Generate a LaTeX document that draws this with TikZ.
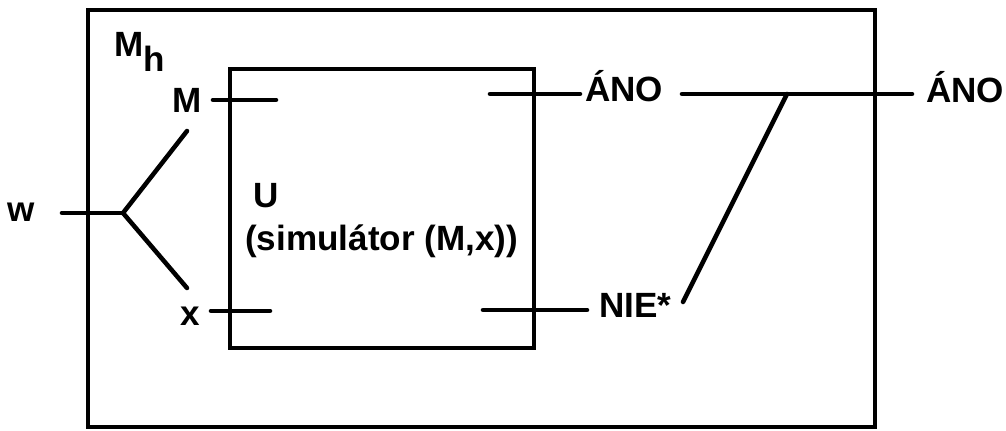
\documentclass[tikz,border=0pt]{standalone}
\usepackage{fontspec}
\setmainfont{Liberation Sans}
\begin{document}
\begin{tikzpicture}[x=0.75pt,y=-0.75pt,line width=3.4pt,
  lbl/.style={font=\fontsize{26.3}{29}\selectfont\bfseries,inner sep=0pt,anchor=base},
  wire/.style={line cap=round}]
\useasboundingbox (0,0) rectangle (1006,431);
\draw (88,10) rectangle (875,427);
\draw (230,69) rectangle (534,348);

\node[lbl,anchor=base west] (mh) at (112,57) {M\raisebox{-11pt}{h}};
\node[lbl] (w) at (21,221) {w};
\node[lbl] (m) at (187,113) {M};
\node[lbl] (x) at (190,325) {x};
\node[lbl,anchor=base west] (u) at (251,207) {U};
\node[lbl,anchor=base west] (sim) at (243,250) {(simulátor (M,x))};
\node[lbl] (ano) at (624,102) {ÁNO};
\node[lbl,anchor=base west] (nie) at (597,317) {NIE*};
\node[lbl] (anoout) at (965,103) {ÁNO};

\coordinate (win) at (62,213);
\coordinate (fork) at (123,213);
\coordinate (forkm) at (187,131);
\coordinate (forkx) at (187,288);
\coordinate (min) at (213,100);
\coordinate (mend) at (276,100);
\coordinate (xin) at (211,311);
\coordinate (xend) at (270,311);
\coordinate (anoin) at (490,94);
\coordinate (anoend) at (580,94);
\coordinate (niein) at (483,310);
\coordinate (nieend) at (587,310);
\coordinate (outa) at (682,94);
\coordinate (outb) at (912,94);
\coordinate (swtop) at (787,94);
\coordinate (swbot) at (683,302);

% vstup w
\draw[wire] (win) -- (fork);
\draw[wire] (fork) -- (forkm);
\draw[wire] (fork) -- (forkx);
\draw[wire] (min) -- (mend);
\draw[wire] (xin) -- (xend);

% vystupy
\draw[wire] (anoin) -- (anoend);
\draw[wire] (niein) -- (nieend);
\draw[wire] (outa) -- (outb);
\draw[wire] (swbot) -- (swtop);
\end{tikzpicture}
\end{document}
